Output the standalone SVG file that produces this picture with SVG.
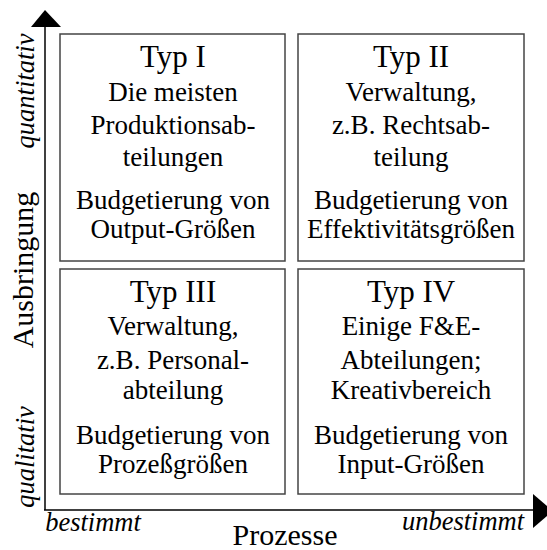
<svg xmlns="http://www.w3.org/2000/svg" width="547" height="550" viewBox="0 0 547 550">
<style>
.t,.b,.ax,.big{font-family:"Liberation Serif","Times New Roman",serif;fill:#000;text-anchor:middle}
.t{font-size:31px}
.b{font-size:27px}
.ax{font-size:26.5px;font-style:italic}
.big{font-size:30px}
.box{fill:#fff;stroke:#444;stroke-width:1.5}
</style>
<rect width="547" height="550" fill="#fff"/>
<g id="connectors">
<line x1="45" y1="510" x2="45" y2="27" stroke="#000" stroke-width="1.5"/>
<path d="M31,27 L45,10 L61,27 Z" fill="#000"/>
<line x1="44" y1="510" x2="533" y2="510" stroke="#000" stroke-width="1.5"/>
<path d="M533,494 L553,511 L533,528 Z" fill="#000"/>
</g>
<g id="axes-labels">
<text class="big" transform="translate(33,270) rotate(-90)">Ausbringung</text>
<text class="ax" transform="translate(34,91) rotate(-90)">quantitativ</text>
<text class="ax" transform="translate(34,457) rotate(-90)">qualitativ</text>
<text class="ax" x="93" y="531">bestimmt</text>
<text class="ax" x="463" y="530">unbestimmt</text>
<text class="big" x="285" y="545">Prozesse</text>
</g>
<g id="typ1">
<rect class="box" x="60" y="34" width="225" height="227"/>
<text class="t" x="173" y="67">Typ I</text>
<text class="b" x="173" y="101">Die meisten</text>
<text class="b" x="173" y="134">Produktionsab-</text>
<text class="b" x="173" y="166">teilungen</text>
<text class="b" x="173" y="209">Budgetierung von</text>
<text class="b" x="173" y="238">Output-Größen</text>
</g>
<g id="typ2">
<rect class="box" x="298" y="34" width="226" height="227"/>
<text class="t" x="411" y="67">Typ II</text>
<text class="b" x="411" y="101">Verwaltung,</text>
<text class="b" x="411" y="134">z.B. Rechtsab-</text>
<text class="b" x="411" y="166">teilung</text>
<text class="b" x="411" y="209">Budgetierung von</text>
<text class="b" x="411" y="238">Effektivitätsgrößen</text>
</g>
<g id="typ3">
<rect class="box" x="60" y="269" width="225" height="225"/>
<text class="t" x="173" y="302">Typ III</text>
<text class="b" x="173" y="335">Verwaltung,</text>
<text class="b" x="173" y="369">z.B. Personal-</text>
<text class="b" x="173" y="399">abteilung</text>
<text class="b" x="173" y="444">Budgetierung von</text>
<text class="b" x="173" y="473">Prozeßgrößen</text>
</g>
<g id="typ4">
<rect class="box" x="298" y="269" width="226" height="225"/>
<text class="t" x="411" y="302">Typ IV</text>
<text class="b" x="411" y="335">Einige F&amp;E-</text>
<text class="b" x="411" y="369">Abteilungen;</text>
<text class="b" x="411" y="399">Kreativbereich</text>
<text class="b" x="411" y="444">Budgetierung von</text>
<text class="b" x="411" y="473">Input-Größen</text>
</g>
</svg>
